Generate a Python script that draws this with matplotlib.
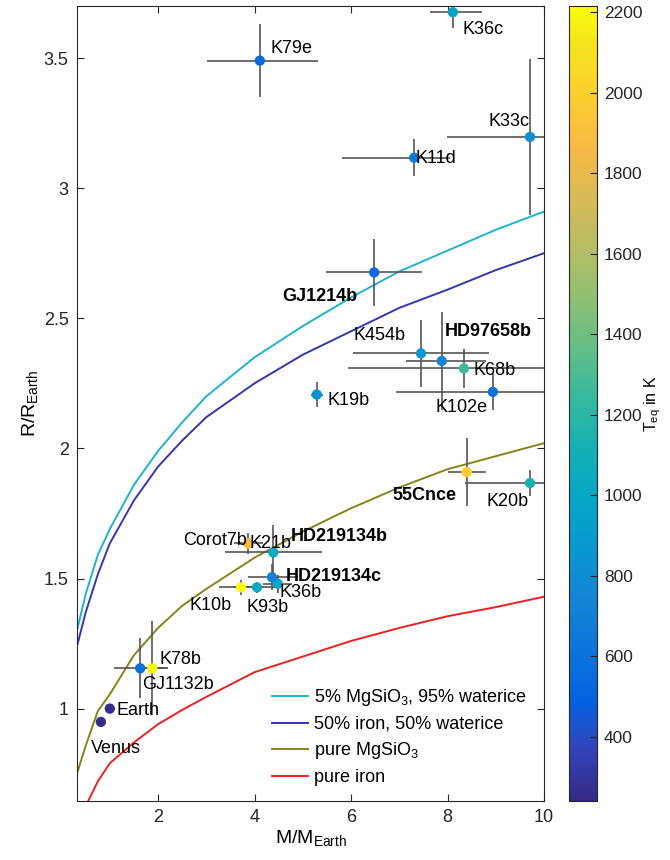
import numpy as np
import matplotlib
matplotlib.use('Agg')
import matplotlib.pyplot as plt
from matplotlib.colors import LinearSegmentedColormap
from matplotlib.ticker import FormatStrFormatter

plt.rcParams['font.family'] = ['Liberation Sans', 'DejaVu Sans']
plt.rcParams['mathtext.default'] = 'regular'

# planets: mass, radius (earth units), errors and equilibrium temperature
names = ['Venus', 'Earth', 'GJ1132b', 'K78b', 'K10b', 'K93b', 'K36b', 'HD219134c',
         'HD219134b', 'K21b', 'Corot7b', 'K19b', 'GJ1214b', 'K454b', 'HD97658b',
         'K68b', 'K102e', 'K11d', 'K79e', 'K33c', 'K36c', '55Cnce', 'K20b']
mass = [0.815, 1.0, 1.63, 1.88, 3.72, 4.05, 4.48, 4.36,
        4.39, 3.87, 3.87, 5.29, 6.48, 7.45, 7.88,
        8.34, 8.94, 7.31, 4.11, 9.71, 8.11, 8.40, 9.71]
mass_lo = [0, 0, 0.55, 0.33, 0.45, 0.5, 0.3, 0.5,
           1.0, 0.0, 0.3, 0.13, 1.0, 1.4, 0.75,
           2.4, 2.0, 1.5, 1.1, 1.72, 0.47, 0.4, 1.35]
mass_hi = [0, 0, 0.55, 0.33, 0.45, 0.5, 0.3, 0.5,
           1.0, 0.0, 0.3, 0.13, 1.0, 1.4, 0.92,
           2.4, 2.0, 0.75, 1.2, 1.72, 0.6, 0.4, 1.35]
radius = [0.949, 1.0, 1.155, 1.155, 1.466, 1.466, 1.48, 1.505,
          1.60, 1.635, 1.635, 2.207, 2.676, 2.365, 2.336,
          2.307, 2.217, 3.117, 3.49, 3.197, 3.676, 1.909, 1.867]
radius_err = [0, 0, 0.115, 0.18, 0.03, 0.02, 0.035, 0.05,
              0.105, 0.02, 0.04, 0.048, 0.13, 0.13, 0.19,
              0.075, 0.07, 0.07, 0.14, 0.3, 0.06, 0.13, 0.05]
teq = [250, 255, 580, 2200, 2200, 1040, 980, 730,
       1030, 2000, 1880, 820, 550, 880, 720,
       1260, 600, 650, 560, 800, 960, 1990, 1120]
bold_names = ['GJ1214b', 'HD97658b', '55Cnce', 'HD219134b', 'HD219134c']

# composition models
model_mass = [0.32, 0.5, 0.75, 1.0, 1.5, 2.0, 2.5, 3.0, 4.0, 5.0, 6.0, 7.0, 8.0, 9.0, 10.0]
r_water95 = [1.30, 1.44, 1.59, 1.69, 1.86, 1.99, 2.10, 2.20, 2.35, 2.47, 2.58, 2.68, 2.76, 2.84, 2.91]
r_iron50 = [1.24, 1.37, 1.515, 1.635, 1.80, 1.93, 2.03, 2.12, 2.25, 2.36, 2.45, 2.54, 2.61, 2.685, 2.75]
r_mgsio3 = [0.75, 0.857, 0.99, 1.055, 1.205, 1.31, 1.395, 1.46, 1.58, 1.68, 1.77, 1.85, 1.92, 1.97, 2.02]
r_iron = [0.54, 0.625, 0.72, 0.79, 0.87, 0.94, 0.995, 1.045, 1.14, 1.20, 1.26, 1.31, 1.355, 1.39, 1.43]

# label placement, pixels (dx, dy down, alignment)
label_pos = {
    'Venus': (-10, 25, 'left'), 'Earth': (7, 0, 'left'), 'GJ1132b': (2, 14, 'left'),
    'K78b': (7, -11, 'left'), 'K10b': (-9, 16, 'right'), 'K93b': (-10, 18, 'left'),
    'K36b': (2, 7, 'left'), 'HD219134c': (14, -3, 'left'), 'HD219134b': (17, -18, 'left'),
    'K21b': (1, -2, 'left'), 'Corot7b': (-1, -5, 'right'), 'K19b': (11, 4, 'left'),
    'GJ1214b': (-17, 22, 'right'), 'K454b': (-15, -20, 'right'), 'HD97658b': (3, -31, 'left'),
    'K68b': (10, 0, 'left'), 'K102e': (-5, 14, 'right'), 'K11d': (1, -1, 'left'),
    'K79e': (11, -14, 'left'), 'K33c': (-1, -17, 'right'), 'K36c': (10, 15, 'left'),
    '55Cnce': (-10, 21, 'right'), 'K20b': (-1, 17, 'right'),
}

# matlab parula, sampled
parula_pts = [
    (0.2081, 0.1663, 0.5292), (0.1959, 0.2645, 0.7279), (0.0117, 0.3875, 0.8820),
    (0.0498, 0.4586, 0.8641), (0.0793, 0.5200, 0.8312), (0.0343, 0.5966, 0.8199),
    (0.0228, 0.6535, 0.7768), (0.0843, 0.6928, 0.7062), (0.2178, 0.7250, 0.6193),
    (0.3953, 0.7459, 0.5244), (0.5709, 0.7485, 0.4494), (0.7184, 0.7411, 0.3905),
    (0.8507, 0.7299, 0.3360), (0.9739, 0.7314, 0.2666), (0.9880, 0.8066, 0.1794),
    (0.9589, 0.8949, 0.1132), (0.9763, 0.9831, 0.0538)]
idx = [0, 4, 8, 12, 16, 20, 24, 28, 32, 36, 40, 44, 48, 52, 56, 60, 63]
parula = LinearSegmentedColormap.from_list('parula', [(i / 63.0, c) for i, c in zip(idx, parula_pts)])

fig = plt.figure(figsize=(6.7, 8.6), dpi=100)
ax = fig.add_axes([77 / 670, 59 / 860, 467 / 670, 795 / 860])

ax.plot(model_mass, r_water95, color='#1db4cf', lw=1.4, label='5% MgSiO$_3$, 95% waterice', zorder=1)
ax.plot(model_mass, r_iron50, color='#3535b0', lw=1.4, label='50% iron, 50% waterice', zorder=1)
ax.plot(model_mass, r_mgsio3, color='#84841a', lw=1.4, label='pure MgSiO$_3$', zorder=1)
ax.plot(model_mass, r_iron, color='#ec2020', lw=1.4, label='pure iron', zorder=1)

ax.errorbar(mass, radius, xerr=[mass_lo, mass_hi], yerr=radius_err, fmt='none',
            ecolor='#555555', elinewidth=1.2, capsize=0, zorder=2)
sc = ax.scatter(mass, radius, c=teq, cmap=parula, vmin=240, vmax=2215, s=55,
                edgecolors='none', zorder=3)

for n, m, r in zip(names, mass, radius):
    dx, dy, ha = label_pos[n]
    ax.annotate(n, (m, r), xytext=(dx, -dy - 6.5), textcoords='offset pixels',
                ha=ha, va='baseline', fontsize=13,
                fontweight='bold' if n in bold_names else 'normal', zorder=4)

ax.set_xlim(0.32, 10)
ax.set_ylim(0.645, 3.70)
ax.set_xticks([2, 4, 6, 8, 10])
ax.set_yticks([1, 1.5, 2, 2.5, 3, 3.5])
ax.yaxis.set_major_formatter(FormatStrFormatter('%g'))
ax.tick_params(direction='in', top=True, right=True, length=5, width=0.8,
               labelsize=13, colors='#262626', pad=6)
for s in ax.spines.values():
    s.set_color('#262626')
    s.set_linewidth(0.8)
ax.set_xlabel('M/M$_{Earth}$', fontsize=14, labelpad=1)
ax.set_ylabel('R/R$_{Earth}$', fontsize=14, labelpad=3)

leg = ax.legend(loc='upper left', bbox_to_anchor=(0.418, 0.143), frameon=False,
                fontsize=13, handlelength=2.0, handletextpad=0.3, labelspacing=0.42,
                borderpad=0, borderaxespad=0)

cax = fig.add_axes([569 / 670, 59 / 860, 28 / 670, 795 / 860])
cb = fig.colorbar(sc, cax=cax, ticks=list(range(400, 2201, 200)))
cb.outline.set_edgecolor('#262626')
cb.outline.set_linewidth(0.8)
cax.tick_params(direction='in', length=5, width=0.8, labelsize=12.5, colors='#262626', pad=5)
cb.set_label('T$_{eq}$ in K', fontsize=11.5, labelpad=0)

fig.savefig('out.png', dpi=100)
